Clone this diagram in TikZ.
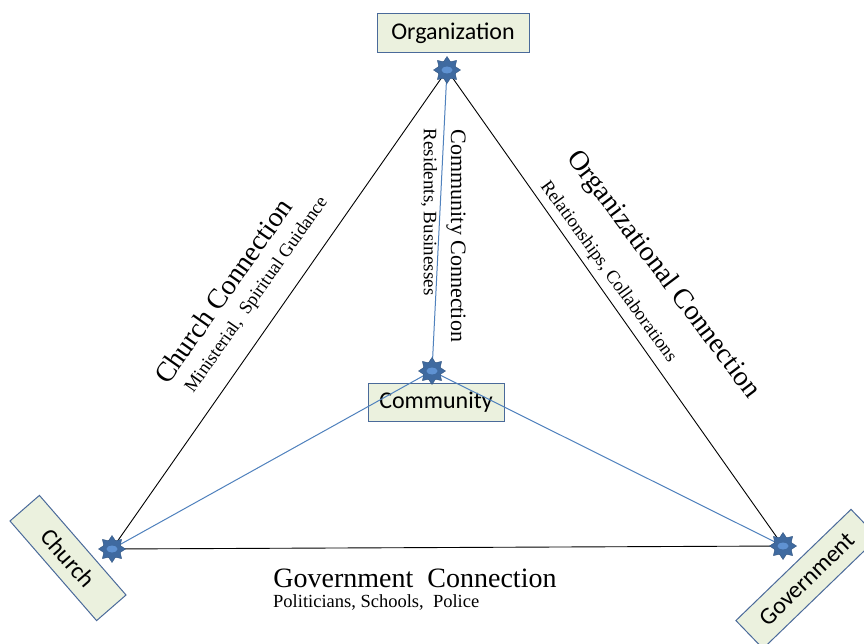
\documentclass[tikz,border=0pt]{standalone}
\usepackage{fontspec}
\setmainfont{Liberation Serif}
\newfontfamily\boxfont{Carlito}
\usetikzlibrary{shapes.geometric}
\definecolor{boxfill}{HTML}{EBF1DE}
\definecolor{boxline}{HTML}{4A6A9A}
\definecolor{linkblue}{HTML}{4F81BD}
\definecolor{stardark}{HTML}{3F6AA0}
\definecolor{starlight}{HTML}{5F92D2}
\begin{document}
\begin{tikzpicture}[x=1pt,y=-1pt,
 labelbox/.style={draw=boxline, fill=boxfill, line width=1pt, inner sep=0pt, font=\boxfont\fontsize{24}{28}\selectfont, minimum height=39pt},
 hub/.style={star, star points=8, star point ratio=1.5, fill=stardark, draw=stardark!80!black, line width=0.4pt, minimum size=27pt, inner sep=0pt},
 hubdot/.style={ellipse, fill=starlight, minimum width=11pt, minimum height=7pt, inner sep=0pt},
 blk/.style={draw=black, line width=0.9pt},
 blu/.style={draw=linkblue, line width=1pt},
 big/.style={font=\fontsize{28}{32}\selectfont, inner sep=0pt},
 mid/.style={font=\fontsize{22}{26}\selectfont, inner sep=0pt},
 small/.style={font=\fontsize{18.5}{21}\selectfont, inner sep=0pt}]

\useasboundingbox (0,0) rectangle (864,644);
\fill[white] (0,0) rectangle (864,644);

% boxes
\node[labelbox, minimum width=152pt] (org) at (453,33.5) {Organization};
\node[labelbox, minimum width=136pt, minimum height=38pt] (com) at (436,402) {Community};
\node[labelbox, minimum width=132pt, rotate=-49] (church) at (68,558) {Church};
\node[labelbox, minimum width=160pt, rotate=44] (gov) at (807,579) {Government};

% hub anchors
\coordinate (porg) at (447,70);
\coordinate (pcom) at (432,371);
\coordinate (pch) at (112,549);
\coordinate (pgov) at (783,546);

% connectors
\draw[blk] (porg) -- (pch);
\draw[blk] (porg) -- (pgov);
\draw[blk] (pch) -- (pgov);
\draw[blu] (porg) -- (pcom);
\draw[blu] (pcom) -- (pch);
\draw[blu] (pcom) -- (pgov);

% hubs
\foreach \p in {porg,pcom,pch,pgov}{
  \node[hub] (h\p) at (\p) {};
  \node[hubdot] (d\p) at (\p) {};
}

% labels
\node[big, rotate=55] (ccbig) at (223,291) {Church Connection};
\node[small, rotate=55] (ccsmall) at (257,295) {Ministerial,\ \ Spiritual Guidance};
\node[mid, rotate=-90] (cmbig) at (456,236) {Community Connection};
\node[small, font=\fontsize{19}{22}\selectfont, rotate=-90] (cmsmall) at (429,212) {Residents, Businesses};
\node[big, rotate=-53] (ocbig) at (663,275) {Organizational Connection};
\node[small, rotate=-54] (ocsmall) at (608,272) {Relationships, Collaborations};
\node[big] (gcbig) at (415,578) {Government\ \ Connection};
\node[small, anchor=base west] (gcsmall) at (273,607) {Politicians, Schools,\ \ Police};
\end{tikzpicture}
\end{document}
